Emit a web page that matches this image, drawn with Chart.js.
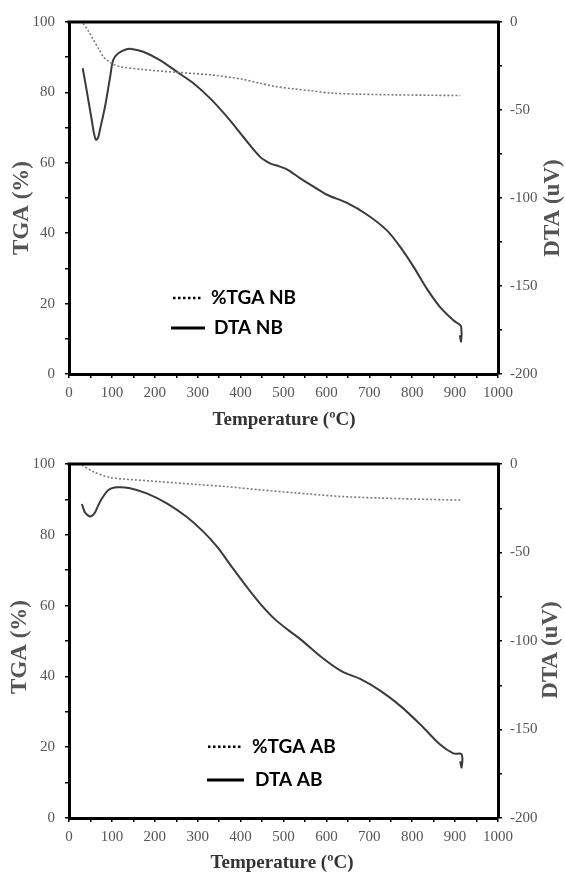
<!DOCTYPE html>
<html><head><meta charset="utf-8">
<script src="https://cdn.jsdelivr.net/npm/chart.js@4.4.0/dist/chart.umd.min.js"></script>
<style>
html,body{margin:0;padding:0;background:#fff;width:565px;height:873px;overflow:hidden}
.wrap{position:absolute;left:0;width:565px}
#w1{top:0;height:440px}
#w2{top:440px;height:433px}
canvas{display:block}
</style></head><body>
<div class="wrap" id="w1"><canvas id="c1" width="565" height="440"></canvas></div>
<div class="wrap" id="w2"><canvas id="c2" width="565" height="433"></canvas></div>
<script>
// ---- Data: sample NB (top panel) ----
const tempTgaNB = [33, 45, 57, 70, 80, 90, 100, 119, 173, 251, 329, 406, 445, 480, 523, 562, 611, 678, 762, 840, 912];
const tgaNB     = [99.6, 97.5, 94.9, 92.2, 90.1, 89.0, 88.2, 87.3, 86.5, 85.7, 85.0, 83.7, 82.6, 81.7, 81.0, 80.5, 79.8, 79.5, 79.3, 79.2, 79.1];
const tempDtaNB = [32, 41, 53, 58, 63, 68, 72, 84, 96, 103, 115, 134, 146, 173, 212, 251, 290, 329, 368, 406, 445, 470, 490, 510, 540, 570, 600, 648, 695, 741, 772, 803, 834, 865, 896, 908, 914, 914, 911];
const dtaNB     = [-26.3, -38.6, -55.7, -63, -67, -65.5, -61.4, -48, -31, -21.6, -17.8, -15.5, -15.3, -16.9, -21.6, -28.2, -34.8, -43.4, -53.8, -65.2, -76.5, -80.5, -82, -84, -89, -93.5, -98, -102.8, -109.5, -118.4, -127.8, -139, -151.5, -162, -169.5, -171.5, -173, -181.5, -178];

// ---- Data: sample AB (bottom panel) ----
const tempTgaAB = [30, 57, 95, 134, 212, 290, 368, 445, 523, 562, 637, 721, 804, 912];
const tgaAB     = [99.7, 97.8, 96.2, 95.7, 95.0, 94.3, 93.6, 92.7, 91.9, 91.5, 90.8, 90.4, 90.1, 89.8];
const tempDtaAB = [30, 37, 44, 50, 56, 61, 68, 76, 92, 113, 142, 181, 228, 274, 313, 346, 379, 412, 446, 479, 512, 542, 588, 635, 681, 727, 773, 819, 865, 896, 915, 915, 912];
const dtaAB     = [-22.6, -27.3, -29, -29.6, -28.8, -27.3, -23.5, -19.8, -14.7, -13.2, -13.7, -16.6, -22.2, -29.8, -38.2, -47, -58, -68.7, -79, -87.5, -94, -99.5, -109, -117, -121.7, -128.3, -136.8, -147.2, -158.5, -163.5, -164, -171.5, -168];

// ---- Tick / label text ----
const xTitle = 'Temperature (ºC)';
const yLeftTitle = 'TGA (%)';
const yRightTitle = 'DTA (uV)';
const legendNB = ['%TGA NB', 'DTA NB'];
const legendAB = ['%TGA AB', 'DTA AB'];

function zip(xs, ys) { return xs.map((x, i) => ({x: x, y: ys[i]})); }

const decor = {
  id: 'decor',
  afterDraw(chart, args, o) {
    const ctx = chart.ctx, ca = chart.chartArea;
    ctx.save();
    // top frame line
    ctx.strokeStyle = '#000'; ctx.lineWidth = 3;
    ctx.beginPath(); ctx.moveTo(ca.left - 1.5, ca.top); ctx.lineTo(ca.right + 1.5, ca.top); ctx.stroke();
    // axis titles
    ctx.textAlign = 'center'; ctx.textBaseline = 'middle';
    ctx.font = 'bold 23px "Liberation Serif"';
    ctx.fillStyle = '#555';
    ctx.save(); ctx.translate(o.lt[0], o.lt[1]); ctx.rotate(-Math.PI / 2); ctx.fillText(yLeftTitle, 0, 0); ctx.restore();
    ctx.save(); ctx.translate(o.rt[0], o.rt[1]); ctx.rotate(-Math.PI / 2); ctx.fillText(yRightTitle, 0, 0); ctx.restore();
    ctx.font = 'bold 19px "Liberation Serif"';
    ctx.fillStyle = '#333';
    ctx.fillText(xTitle, o.xt[0], o.xt[1]);
    // legend
    ctx.textAlign = 'left';
    ctx.font = 'bold 19px Lato';
    ctx.fillStyle = '#000';
    ctx.strokeStyle = '#000';
    ctx.lineWidth = 2.5; ctx.setLineDash([2.5, 2.5]);
    ctx.beginPath(); ctx.moveTo(o.lg1[0], o.lg1[2]); ctx.lineTo(o.lg1[1], o.lg1[2]); ctx.stroke();
    ctx.setLineDash([]); ctx.lineWidth = 3;
    ctx.beginPath(); ctx.moveTo(o.lg2[0], o.lg2[2]); ctx.lineTo(o.lg2[1], o.lg2[2]); ctx.stroke();
    ctx.fillText(o.labels[0], o.lg1[3], o.lg1[2]);
    ctx.fillText(o.labels[1], o.lg2[3], o.lg2[2]);
    ctx.restore();
  }
};

function makeChart(id, tT, tg, tD, dt, cfg) {
  const tickFont = {family: '"Liberation Serif"', size: 15};
  const grid = {drawOnChartArea: false, drawTicks: true, tickLength: 4, color: '#000', lineWidth: 1.5};
  const border = {display: true, color: '#000', width: 3};
  return new Chart(document.getElementById(id), {
    type: 'line',
    data: {
      datasets: [
        {label: cfg.labels[0], data: zip(tT, tg), yAxisID: 'y', borderColor: '#7a7a7a', borderWidth: 1.6,
         borderDash: [2, 2], pointRadius: 0, tension: 0.3, fill: false},
        {label: cfg.labels[1], data: zip(tD, dt), yAxisID: 'y1', borderColor: '#3a3a3a', borderWidth: 2,
         pointRadius: 0, tension: 0.3, fill: false}
      ]
    },
    options: {
      responsive: false, animation: false, devicePixelRatio: 1,
      layout: {padding: {top: cfg.top, left: 0, right: 0, bottom: 0}},
      plugins: {legend: {display: false}, tooltip: {enabled: false},
        decor: {lt: cfg.lt, rt: cfg.rt, xt: cfg.xt, lg1: cfg.lg1, lg2: cfg.lg2, labels: cfg.labels}},
      scales: {
        x: {type: 'linear', position: 'bottom', min: 0, max: 1000,
          afterFit(s) { s.height = cfg.xH; },
          ticks: {stepSize: 50, autoSkip: false, maxRotation: 0, padding: 6, color: '#555', font: tickFont,
            callback: v => (v % 100 === 0 ? String(v) : '')},
          grid: grid, border: border},
        y: {type: 'linear', position: 'left', min: 0, max: 100,
          afterFit(s) { s.width = 69; },
          ticks: {stepSize: 10, autoSkip: false, padding: 10, color: '#555', font: tickFont,
            callback: v => (v % 20 === 0 ? String(v) : '')},
          grid: grid, border: border},
        y1: {type: 'linear', position: 'right', min: -200, max: 0,
          afterFit(s) { s.width = 67; },
          ticks: {stepSize: 25, autoSkip: false, padding: 8, color: '#555', font: tickFont,
            callback: v => (v % 50 === 0 ? String(v) : '')},
          grid: grid, border: border}
      }
    },
    plugins: [decor]
  });
}

makeChart('c1', tempTgaNB, tgaNB, tempDtaNB, dtaNB, {
  top: 22, xH: 66, labels: legendNB,
  lt: [22, 208], rt: [553, 208], xt: [284, 420],
  lg1: [173, 203, 298, 211], lg2: [171, 205, 328, 214]
});
makeChart('c2', tempTgaAB, tgaAB, tempDtaAB, dtaAB, {
  top: 24, xH: 55, labels: legendAB,
  lt: [20, 207], rt: [551, 210], xt: [282, 423],
  lg1: [208, 241, 306.7, 252], lg2: [207, 244, 340, 255]
});
</script>
</body></html>
